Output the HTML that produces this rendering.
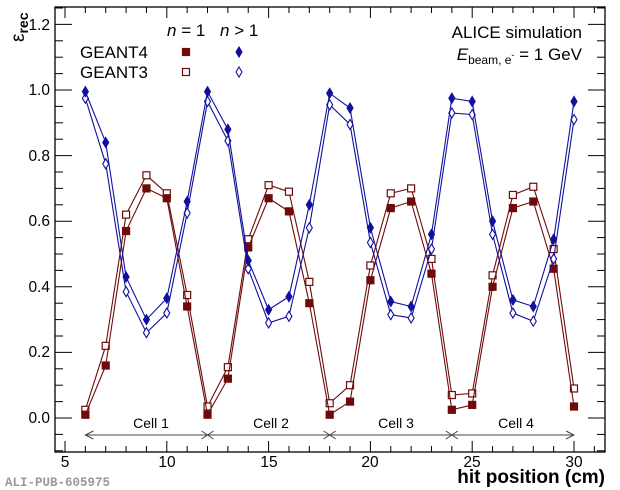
<!DOCTYPE html>
<html><head><meta charset="utf-8"><style>
body{margin:0;background:#fff}
svg{display:block;font-family:"Liberation Sans",sans-serif}
</style></head><body>
<svg id="s" width="620" height="490" xmlns="http://www.w3.org/2000/svg">
<rect x="55" y="7" width="550" height="445" fill="none" stroke="#000" stroke-width="1.3"/>
<g id="ticks" stroke="#000" stroke-width="1"></g>
<g id="data"></g>
<g font-size="15.5" fill="#000">
<text x="65" y="467" text-anchor="middle">5</text>
<text x="167" y="467" text-anchor="middle">10</text>
<text x="269" y="467" text-anchor="middle">15</text>
<text x="370" y="467" text-anchor="middle">20</text>
<text x="472" y="467" text-anchor="middle">25</text>
<text x="574" y="467" text-anchor="middle">30</text>
<text x="50" y="423" text-anchor="end">0.0</text>
<text x="50" y="357" text-anchor="end">0.2</text>
<text x="50" y="292" text-anchor="end">0.4</text>
<text x="50" y="226" text-anchor="end">0.6</text>
<text x="50" y="161" text-anchor="end">0.8</text>
<text x="50" y="95" text-anchor="end">1.0</text>
<text x="50" y="30" text-anchor="end">1.2</text>
</g>
<text transform="translate(24,42) rotate(-90)" font-size="19">ε<tspan font-size="14" font-weight="bold" dy="4">rec</tspan></text>
<text x="605" y="483" text-anchor="end" font-size="19" font-weight="bold">hit position (cm)</text>
<text x="5" y="486" font-family="Liberation Mono,monospace" font-size="12.5" font-weight="bold" fill="#999">ALI-PUB-605975</text>
<g font-size="17">
<text x="167" y="36"><tspan font-style="italic">n</tspan> = 1</text>
<text x="220" y="36"><tspan font-style="italic">n</tspan> &gt; 1</text>
<text x="80" y="58">GEANT4</text>
<text x="80" y="78">GEANT3</text>
<text x="582" y="38" text-anchor="end">ALICE simulation</text>
<text x="582" y="60" text-anchor="end"><tspan font-style="italic">E</tspan><tspan font-size="12" dy="4">beam, e</tspan><tspan font-size="9" dy="-6">-</tspan><tspan dy="2"> = 1 GeV</tspan></text>
</g>
<g font-size="14" text-anchor="middle">
<text x="151" y="428">Cell 1</text>
<text x="271" y="428">Cell 2</text>
<text x="396" y="428">Cell 3</text>
<text x="516" y="428">Cell 4</text>
</g>
<g id="arr" stroke="#444" stroke-width="1" fill="none"></g>
<g id="leg"></g>
</svg>
<script>
const X=v=>65+(v-5)*20.36, Y=v=>418-v*328;
const ns="http://www.w3.org/2000/svg";
function el(p,t,a){const e=document.createElementNS(ns,t);for(const k in a)e.setAttribute(k,a[k]);p.appendChild(e);return e;}
const T=document.getElementById('ticks');
for(let v=5;v<=31;v++){const L=v%5==0?11:6;el(T,'line',{x1:X(v),x2:X(v),y1:452,y2:452-L});el(T,'line',{x1:X(v),x2:X(v),y1:7,y2:7+L});}
for(let i=-2;i<=25;i++){const v=i*0.05;const y=Y(v);if(y<7||y>452)continue;const L=i%4==0?17:8;el(T,'line',{x1:55,x2:55+L,y1:y,y2:y});el(T,'line',{x1:605,x2:605-L,y1:y,y2:y});}
const A=document.getElementById('arr'),ay=435;
el(A,'line',{x1:X(6),x2:X(30),y1:ay,y2:ay});
el(A,'polyline',{points:`${X(6)+8},${ay-4} ${X(6)},${ay} ${X(6)+8},${ay+4}`});
el(A,'polyline',{points:`${X(30)-8},${ay-4} ${X(30)},${ay} ${X(30)-8},${ay+4}`});
[12,18,24].forEach(v=>{el(A,'path',{d:`M${X(v)-6},${ay-4}L${X(v)+6},${ay+4}M${X(v)-6},${ay+4}L${X(v)+6},${ay-4}`});});
const g4n1=[0.01,0.16,0.57,0.70,0.67,0.34,0.01,0.12,0.52,0.67,0.63,0.35,0.01,0.05,0.42,0.64,0.66,0.44,0.025,0.04,0.40,0.64,0.66,0.455,0.035];
const g3n1=[0.025,0.22,0.62,0.74,0.685,0.375,0.035,0.155,0.545,0.71,0.69,0.415,0.045,0.10,0.465,0.685,0.70,0.485,0.07,0.075,0.435,0.68,0.705,0.515,0.09];
const g4n2=[0.995,0.84,0.43,0.30,0.365,0.66,0.995,0.88,0.48,0.33,0.37,0.65,0.99,0.945,0.58,0.355,0.34,0.56,0.975,0.965,0.60,0.36,0.34,0.545,0.965];
const g3n2=[0.975,0.775,0.385,0.26,0.32,0.625,0.965,0.845,0.455,0.29,0.31,0.58,0.955,0.895,0.535,0.315,0.305,0.515,0.93,0.925,0.56,0.32,0.295,0.485,0.91];
const D=document.getElementById('data');
const red='#6e0a0a',blue='#1010a0';
function sq(p,x,y,f){el(p,'rect',{x:x-3.5,y:y-3.5,width:7,height:7,fill:f?red:'#fff',stroke:red,'stroke-width':1.2});}
function di(p,x,y,f){el(p,'polygon',{points:`${x},${y-5} ${x+3},${y} ${x},${y+5} ${x-3},${y}`,fill:f?blue:'#fff',stroke:blue,'stroke-width':1.1});}
function series(d,c,m,f){el(D,'polyline',{points:d.map((v,i)=>X(6+i)+','+Y(v)).join(' '),fill:'none',stroke:c,'stroke-width':1.1});d.forEach((v,i)=>m(D,X(6+i),Y(v),f));}
series(g3n1,red,sq,false);series(g4n1,red,sq,true);
series(g3n2,blue,di,false);series(g4n2,blue,di,true);
const G=document.getElementById('leg');
sq(G,186,52,true);sq(G,186,72,false);di(G,239,52,true);di(G,239,72,false);
</script>
</body></html>
